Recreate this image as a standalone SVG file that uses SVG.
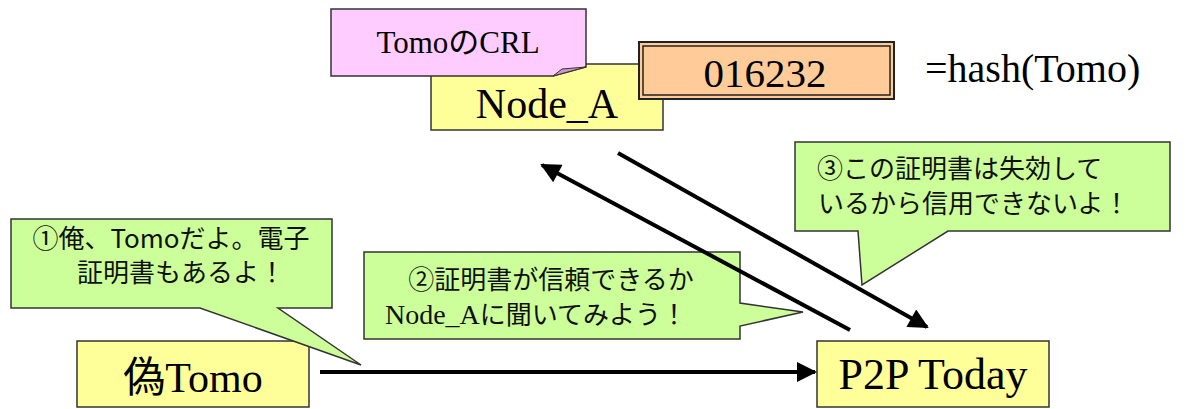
<svg xmlns="http://www.w3.org/2000/svg" width="1199" height="409" viewBox="0 0 1199 409">
<style>
.box{stroke:#333;stroke-width:1.5}
.yel{fill:#ffff99}
.grn{fill:#ccff99}
.serif{font-family:"Liberation Serif","Noto Sans CJK JP",serif;fill:#000}
.goth{font-family:"Noto Sans CJK JP","Noto Sans",sans-serif;fill:#111;font-size:26px}
.conn{stroke:#000;stroke-width:4;fill:none}
</style>
<defs>
<marker id="ah" viewBox="0 0 10 10" refX="9" refY="5" markerWidth="6" markerHeight="5" markerUnits="strokeWidth" orient="auto">
<path d="M0,0 L10,5 L0,10 z" fill="#000"/>
</marker>
</defs>
<rect width="1199" height="409" fill="#fff"/>

<g id="nodeA">
<rect class="box yel" x="431" y="64" width="232" height="66"/>
<text class="serif" x="547" y="118" font-size="42" text-anchor="middle">Node_A</text>
</g>

<g id="crl">
<polygon class="box" fill="#ffccff" points="331,9 586,9 586,67 553,76 331,76"/>
<polygon fill="#cc99cc" stroke="#333" stroke-width="1" points="553,76 586,67 562,69"/>
<text class="serif" x="458" y="53" font-size="31" text-anchor="middle">TomoのCRL</text>
</g>

<g id="hash">
<rect x="639" y="42" width="255" height="57" fill="#ffcc99" stroke="#222" stroke-width="2"/>
<rect x="643" y="46" width="247" height="49" fill="none" stroke="#222" stroke-width="1.5"/>
<text class="serif" x="765" y="87" font-size="41" text-anchor="middle">016232</text>
</g>

<g id="hashlabel">
<text class="serif" x="925" y="82" font-size="40">=hash(Tomo)</text>
</g>

<g id="fakeTomo">
<rect class="box yel" x="77" y="341" width="232" height="66"/>
<text class="serif" x="193" y="392" font-size="42" text-anchor="middle">偽Tomo</text>
</g>

<g id="p2p">
<rect class="box yel" x="817" y="341" width="232" height="66"/>
<text class="serif" x="933" y="389" font-size="44" text-anchor="middle">P2P Today</text>
</g>

<g id="callout1">
<polygon class="box grn" points="11,219 332,219 332,308 278,308 361,365 200,308 11,308"/>
<text class="goth" x="171" y="248" text-anchor="middle">①俺、Tomoだよ。電子</text>
<text class="goth" x="181" y="282" text-anchor="middle">証明書もあるよ！</text>
</g>

<g id="callout2">
<polygon class="box grn" points="364,252 740,252 740,303 803,312 740,326 740,339 364,339"/>
<text class="goth" x="551" y="289" text-anchor="middle">②証明書が信頼できるか</text>
<text class="goth" x="536" y="324" text-anchor="middle"><tspan font-family="Liberation Serif" font-size="28">Node_A</tspan>に聞いてみよう！</text>
</g>

<g id="callout3">
<polygon class="box grn" points="795,142 1170,142 1170,231 948,231 862,285 858,231 795,231"/>
<text class="goth" x="817" y="178">③この証明書は失効して</text>
<text class="goth" x="818" y="213">いるから信用できないよ！</text>
</g>

<g id="connectors">
<line class="conn" x1="320" y1="372" x2="815" y2="372" marker-end="url(#ah)"/>
<line class="conn" x1="850" y1="330" x2="542" y2="165" marker-end="url(#ah)"/>
<line class="conn" x1="618" y1="153" x2="927" y2="327" marker-end="url(#ah)"/>
</g>
</svg>
